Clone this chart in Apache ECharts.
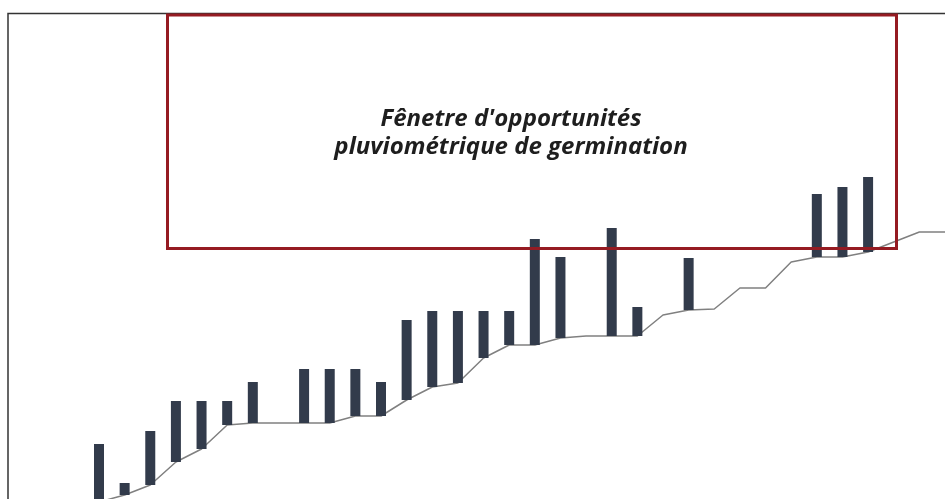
<!DOCTYPE html>
<html>
<head>
<meta charset="utf-8">
<script src="https://cdn.jsdelivr.net/npm/echarts@6/dist/echarts.min.js"></script>
<style>
html,body{margin:0;padding:0;background:#fff;}
#chart{width:945px;height:499px;}
</style>
</head>
<body>
<div id="chart"></div>
<script>
// Periods along the season
const categories = ['1','2','3','4','5','6','7','8','9','10','11','12','13','14','15','16','17','18','19','20','21','22','23','24','25','26','27','28','29','30','31','32','33','34'];
// Cumulative germination threshold (line)
const thresholdValues = [18,25,35,58,71,95,97,97,97,97,104,104,120,133,137,162,175,175,182,184,184,184,205,210,211,232,232,258,263,263,268,278,288,288];
// Rainfall bars (height above the threshold line)
const rainValues = [58,12,54,61,48,24,41,0,54,54,47,34,80,76,72,47,34,106,81,0,108,29,0,52,0,0,0,0,63,70,75,0,0,0];
const annotationLines = ["Fênetre d'opportunités", "pluviométrique de germination"];

const baseValues = rainValues.map((r, i) => r > 0 ? thresholdValues[i] : 0);

const chart = echarts.init(document.getElementById('chart'), null, {renderer: 'canvas'});
chart.setOption({
  animation: false,
  backgroundColor: '#ffffff',
  grid: {left: 99, right: 0, top: 20, bottom: 0, containLabel: false},
  xAxis: {
    type: 'category', data: categories, boundaryGap: false,
    show: false
  },
  yAxis: {type: 'value', min: 21, max: 500, show: false, splitLine: {show: false}},
  series: [
    {
      type: 'line', data: thresholdValues, symbol: 'none', z: 1,
      lineStyle: {color: '#808080', width: 1.5}
    },
    {
      type: 'bar', stack: 'rain', data: baseValues, barWidth: 10, z: 2, clip: false,
      itemStyle: {color: 'rgba(0,0,0,0)'}, silent: true
    },
    {
      type: 'bar', stack: 'rain', data: rainValues, barWidth: 10, z: 2, clip: false,
      itemStyle: {color: '#323b4b'}
    }
  ],
  graphic: [
    {
      type: 'rect', z: 100, silent: true,
      shape: {x: 8, y: 13.5, width: 1000, height: 600},
      style: {fill: null, stroke: '#333333', lineWidth: 1.5}
    },
    {
      type: 'rect', z: 110, silent: true,
      shape: {x: 167.5, y: 15, width: 729, height: 233.5},
      style: {fill: null, stroke: '#951b22', lineWidth: 3}
    },
    {
      type: 'text', z: 120, silent: true,
      x: 511, y: 133,
      style: {
        text: annotationLines.join('\n'),
        fill: '#1e1e1e',
        font: 'italic bold 24px "Open Sans", sans-serif',
        lineHeight: 28,
        align: 'center', verticalAlign: 'middle'
      }
    }
  ]
});
</script>
</body>
</html>
